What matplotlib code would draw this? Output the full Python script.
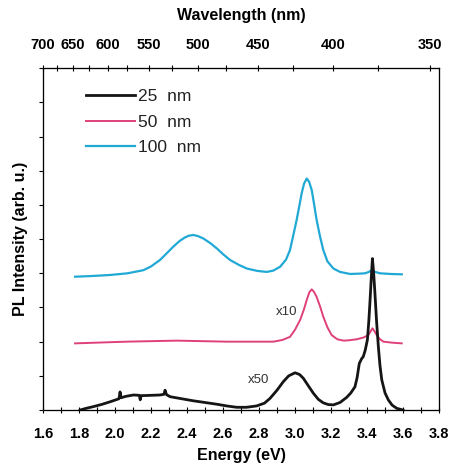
import numpy as np
import matplotlib.pyplot as plt
from matplotlib.ticker import MultipleLocator, FixedLocator, NullFormatter

plt.rcParams['font.family'] = ['Liberation Sans', 'DejaVu Sans']

# 100 nm film (cyan)
e_100 = [1.778, 1.87, 1.972, 2.07, 2.157, 2.2, 2.25, 2.29, 2.324, 2.36,
         2.389, 2.41, 2.435, 2.46, 2.49, 2.53, 2.565, 2.6, 2.639, 2.69,
         2.732, 2.79, 2.843, 2.88, 2.917, 2.95, 2.972, 2.99, 3.009, 3.025,
         3.037, 3.05, 3.065, 3.078, 3.093, 3.105, 3.12, 3.138, 3.157, 3.18,
         3.213, 3.25, 3.306, 3.36, 3.389, 3.41, 3.426, 3.445, 3.472, 3.53, 3.593]
i_100 = [3.90, 3.92, 3.95, 4.00, 4.09, 4.20, 4.39, 4.60, 4.78, 4.95,
         5.05, 5.10, 5.12, 5.09, 5.02, 4.88, 4.73, 4.56, 4.39, 4.24,
         4.14, 4.07, 4.04, 4.08, 4.19, 4.40, 4.68, 5.10, 5.56, 6.00,
         6.34, 6.62, 6.77, 6.68, 6.43, 6.05, 5.56, 5.10, 4.68, 4.35,
         4.14, 4.04, 3.98, 3.99, 4.00, 4.04, 4.09, 4.04, 4.00, 3.98, 3.97]

# 50 nm film (magenta), x10
e_50 = [1.778, 2.065, 2.343, 2.62, 2.88, 2.93, 2.972, 3.0, 3.028, 3.05,
        3.065, 3.08, 3.093, 3.105, 3.12, 3.14, 3.157, 3.18, 3.204, 3.235,
        3.269, 3.30, 3.343, 3.38, 3.407, 3.42, 3.43, 3.442, 3.454, 3.47,
        3.491, 3.54, 3.593]
i_50 = [1.95, 2.00, 2.03, 2.00, 2.00, 2.05, 2.14, 2.35, 2.63, 2.95,
        3.22, 3.45, 3.53, 3.46, 3.31, 3.02, 2.73, 2.42, 2.19, 2.07,
        2.03, 2.04, 2.07, 2.12, 2.19, 2.30, 2.39, 2.30, 2.19, 2.08,
        2.00, 1.97, 1.95]

# 25 nm film (black), x50
e_25 = [1.806, 1.84, 1.88, 1.93, 1.972, 2.0, 2.022, 2.028, 2.034, 2.06,
        2.102, 2.135, 2.14, 2.145, 2.2, 2.25, 2.272, 2.278, 2.286, 2.306,
        2.37, 2.435, 2.5, 2.565, 2.62, 2.676, 2.73, 2.787, 2.83, 2.861,
        2.9, 2.935, 2.965, 3.0, 3.025, 3.046, 3.075, 3.102, 3.13, 3.157,
        3.185, 3.213, 3.25, 3.287, 3.31, 3.333, 3.345, 3.357, 3.37, 3.379,
        3.39, 3.402, 3.41, 3.417, 3.424, 3.43, 3.437, 3.444, 3.453, 3.463,
        3.472, 3.482, 3.5, 3.519, 3.54, 3.565, 3.6]
i_25 = [0.0, 0.05, 0.10, 0.17, 0.24, 0.29, 0.33, 0.53, 0.36, 0.40,
        0.44, 0.43, 0.30, 0.42, 0.43, 0.44, 0.46, 0.58, 0.45, 0.39,
        0.33, 0.27, 0.22, 0.17, 0.12, 0.08, 0.08, 0.12, 0.20, 0.34,
        0.58, 0.83, 1.00, 1.09, 1.04, 0.93, 0.70, 0.49, 0.31, 0.21,
        0.16, 0.15, 0.22, 0.37, 0.50, 0.68, 0.95, 1.36, 1.50, 1.56,
        1.75, 2.05, 2.60, 3.22, 3.90, 4.43, 4.00, 3.41, 2.60, 1.85,
        1.30, 0.88, 0.50, 0.29, 0.14, 0.05, 0.0]

wl_major = [700, 650, 600, 550, 500, 450, 400, 350]
wl_minor = [675, 625, 575, 525, 475, 425, 375]

fig = plt.figure(figsize=(4.5, 4.67), dpi=100)
ax = fig.add_axes([0.0956, 0.122, 0.88, 0.732])

ax.plot(e_25, i_25, color='#151515', lw=2.0, label='25  nm', zorder=3)
ax.plot(e_50, i_50, color='#e0407a', lw=1.4, label='50  nm')
ax.plot(e_100, i_100, color='#21a9d6', lw=1.6, label='100  nm')

ax.text(2.954, 2.87, 'x10', fontsize=9.5, color='#333333', ha='center', va='center')
ax.text(2.796, 0.88, 'x50', fontsize=9.5, color='#333333', ha='center', va='center')

ax.set_xlim(1.6, 3.8)
ax.set_ylim(0, 10)
ax.xaxis.set_major_locator(MultipleLocator(0.2))
ax.xaxis.set_minor_locator(MultipleLocator(0.1))
ax.yaxis.set_major_locator(MultipleLocator(1))
ax.yaxis.set_major_formatter(NullFormatter())
ax.tick_params(axis='x', which='both', direction='inout', length=5, width=0.8,
               labelsize=10.5, pad=10)
ax.tick_params(axis='y', which='both', direction='out', length=3, width=0.8)
for lab in ax.get_xticklabels():
    lab.set_fontweight('bold')
for sp in ax.spines.values():
    sp.set_linewidth(0.9)
    sp.set_color('#333333')

ax.set_xlabel('Energy (eV)', fontsize=11.5, fontweight='bold', labelpad=4.7)
ax.set_ylabel('PL Intensity (arb. u.)', fontsize=11.5, fontweight='bold', labelpad=4)

# top wavelength axis
ax2 = ax.twiny()
ax2.set_xlim(1239.84 / 700, 3.5836)
ax2.xaxis.set_major_locator(FixedLocator([1239.84 / w for w in wl_major]))
ax2.xaxis.set_minor_locator(FixedLocator([1239.84 / w for w in wl_minor]))
ax2.set_xticklabels([str(w) for w in wl_major], fontweight='bold')
ax2.tick_params(axis='x', which='both', direction='inout', length=5, width=0.8,
                labelsize=10.5, pad=8.8)
ax2.set_xlabel('Wavelength (nm)', fontsize=11.5, fontweight='bold', labelpad=13.6)

leg = ax.legend(loc='upper left', bbox_to_anchor=(0.07, 0.985), frameon=False,
                fontsize=12.5, handlelength=2.8, handletextpad=0.2,
                labelspacing=0.6)
for t in leg.get_texts():
    t.set_color('#222222')

fig.savefig('out.png', dpi=100)
